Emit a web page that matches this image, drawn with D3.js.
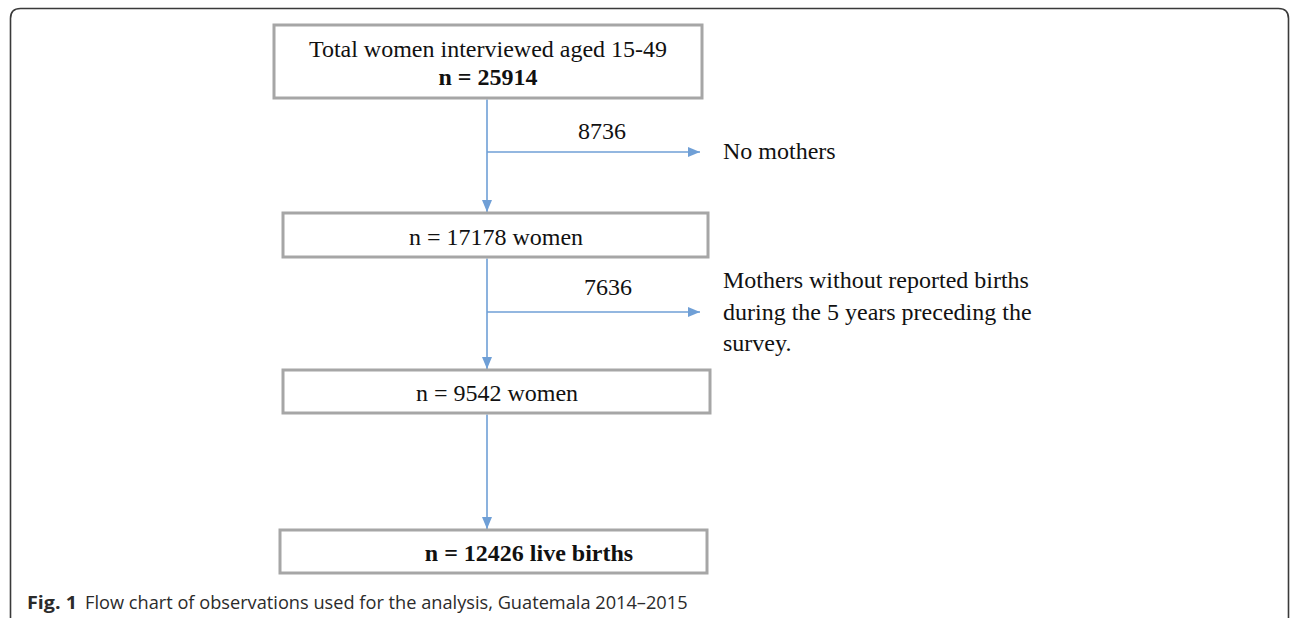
<!DOCTYPE html>
<html lang="en">
<head>
  <meta charset="UTF-8" />
  <title>Flow chart of observations</title>
  <style>
    html, body {
      margin: 0; padding: 0;
      background: #fff;
      overflow: hidden;
    }
    svg { display: block; }
    .box {
      fill: #fff;
      stroke: #a6a6a6;
      stroke-width: 3px;
    }
    .flow {
      stroke: #6f9fd6;
      stroke-width: 1.6px;
      fill: none;
    }
    .serif {
      font-family: "Liberation Serif", "Times New Roman", serif;
      font-size: 24px;
      fill: #111;
    }
    .caption {
      font-family: "Open Sans", "Noto Sans", sans-serif;
      font-size: 18px;
      fill: #2b2b2b;
    }
  </style>
  <script src="https://d3js.org/d3.v7.min.js"></script>
</head>
<body>
  <svg id="chart" width="1290" height="618"></svg>

  <script>
    // data
    const stepCounts = [25914, 17178, 9542, 12426];
    const stepUnits = ["", "women", "women", "live births"];
    const stepTitle = "Total women interviewed aged 15-49";
    const excludedCounts = [8736, 7636];
    const excludedLabels = [
      ["No mothers"],
      ["Mothers without reported births", "during the 5 years preceding the", "survey."]
    ];
    const captionBold = "Fig. 1";
    const captionText = "Flow chart of observations used for the analysis, Guatemala 2014–2015";

    // layout
    const boxLeft   = [274, 283, 283, 280];
    const boxRight  = [702, 708, 710, 707];
    const boxTop    = [25, 213, 370, 530];
    const boxBottom = [98, 257, 413, 573];
    const spineX = 487;
    const branchY = [152, 312];
    const branchEnd = 700;

    const svg = d3.select("#chart");

    // outer frame (rounded, runs past the bottom)
    const fx = 10.5, fy = 8.5, fr = 10, fw = 1278, fh = 612;
    svg.append("path")
      .attr("d", `M${fx},${fy + fh} L${fx},${fy + fr} Q${fx},${fy} ${fx + fr},${fy}
                  L${fx + fw - fr},${fy} Q${fx + fw},${fy} ${fx + fw},${fy + fr} L${fx + fw},${fy + fh}`)
      .attr("fill", "none")
      .attr("stroke", "#3a3a3a")
      .attr("stroke-width", 1.6);

    svg.append("defs").append("marker")
      .attr("id", "arrow")
      .attr("viewBox", "0 0 12 10")
      .attr("refX", 12)
      .attr("refY", 5)
      .attr("markerWidth", 12)
      .attr("markerHeight", 10)
      .attr("markerUnits", "userSpaceOnUse")
      .attr("orient", "auto")
      .append("path")
      .attr("d", "M0,0 L12,5 L0,10 Z")
      .attr("fill", "#6f9fd6");

    // vertical connectors between boxes
    const steps = d3.range(stepCounts.length);
    svg.selectAll("line.down")
      .data(steps.slice(1))
      .join("line")
      .attr("class", "flow down")
      .attr("x1", spineX)
      .attr("x2", spineX)
      .attr("y1", i => boxBottom[i - 1] + 1.5)
      .attr("y2", i => boxTop[i] - 1)
      .attr("marker-end", "url(#arrow)");

    // boxes
    svg.selectAll("rect.box")
      .data(steps)
      .join("rect")
      .attr("class", "box")
      .attr("x", i => boxLeft[i])
      .attr("y", i => boxTop[i])
      .attr("width", i => boxRight[i] - boxLeft[i])
      .attr("height", i => boxBottom[i] - boxTop[i]);

    // box labels
    const fmt = d => String(d);
    const first = svg.append("text")
      .attr("class", "serif")
      .attr("text-anchor", "middle");
    first.append("tspan")
      .attr("x", (boxLeft[0] + boxRight[0]) / 2)
      .attr("y", 57)
      .text(stepTitle);
    first.append("tspan")
      .attr("x", (boxLeft[0] + boxRight[0]) / 2)
      .attr("y", 85)
      .attr("font-weight", "bold")
      .text("n = " + fmt(stepCounts[0]));

    const labelX = [0, 496, 497, 529];
    svg.selectAll("text.step")
      .data(steps.slice(1))
      .join("text")
      .attr("class", "serif step")
      .attr("text-anchor", "middle")
      .attr("x", i => labelX[i])
      .attr("y", i => boxBottom[i] - 12)
      .attr("font-weight", i => i === stepCounts.length - 1 ? "bold" : null)
      .text(i => `n = ${fmt(stepCounts[i])} ${stepUnits[i]}`);

    // exclusion branches
    const branches = d3.range(excludedCounts.length);
    svg.selectAll("line.branch")
      .data(branches)
      .join("line")
      .attr("class", "flow branch")
      .attr("x1", spineX)
      .attr("x2", branchEnd)
      .attr("y1", i => branchY[i])
      .attr("y2", i => branchY[i])
      .attr("marker-end", "url(#arrow)");

    svg.selectAll("text.count")
      .data(branches)
      .join("text")
      .attr("class", "serif count")
      .attr("text-anchor", "middle")
      .attr("x", i => [602, 608][i])
      .attr("y", i => branchY[i] - [13, 17][i])
      .text(i => fmt(excludedCounts[i]));

    const labelTop = [159, 288];
    svg.selectAll("text.reason")
      .data(branches)
      .join("text")
      .attr("class", "serif reason")
      .each(function(i) {
        d3.select(this).selectAll("tspan")
          .data(excludedLabels[i])
          .join("tspan")
          .attr("x", 723)
          .attr("y", (d, k) => labelTop[i] + k * 31.5)
          .text(d => d);
      });

    // caption: bold label and text, each fitted to its span
    function fitText(sel, x0, x1) {
      const w = sel.node().getComputedTextLength();
      sel.attr("transform", `translate(${x0},0) scale(${(x1 - x0) / w},1) translate(${-x0},0)`);
    }
    const capBold = svg.append("text")
      .attr("class", "caption")
      .attr("x", 27)
      .attr("y", 609)
      .attr("font-weight", "bold")
      .attr("fill", "#1a1a1a")
      .text(captionBold);
    fitText(capBold, 27, 77);
    const capText = svg.append("text")
      .attr("class", "caption")
      .attr("x", 85)
      .attr("y", 609)
      .text(captionText);
    fitText(capText, 85, 688);
  </script>
</body>
</html>
